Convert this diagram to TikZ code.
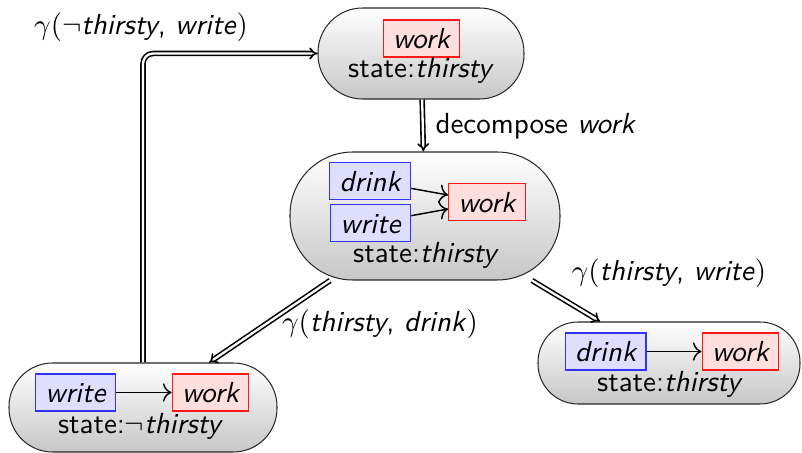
\documentclass[tikz,border=0pt]{standalone}
\usetikzlibrary{arrows.meta}
\def\pxu{0.345pt}
\tikzset{
  statebox/.style 2 args={draw=black!85, line width=0.35pt, top color=white,
    bottom color=black!22, inner sep=0pt, minimum width=#1*\pxu,
    minimum height=#2*\pxu, rounded corners=#2*0.49*\pxu},
  task/.style={draw, line width=0.45pt, text height=0.7em, text depth=0pt,
    inner xsep=3.4pt, inner ysep=2.9pt, font=\sffamily\itshape},
  primtask/.style={task, fill=blue!13, draw=blue!80},
  goaltask/.style={task, fill=red!13, draw=red!90},
  statetext/.style={anchor=base, inner sep=0pt},
  dep/.style={-{To[length=3pt]}, line width=0.5pt},
  transition/.style={double, double distance=0.8pt, line width=0.55pt, -{Implies}},
  lbl/.style={anchor=base, inner sep=0pt}
}
\begin{document}
\begin{tikzpicture}[x=0.345pt, y=-0.345pt, font=\sffamily]
\useasboundingbox (0,0) rectangle (802,453);

% search states
\node[statebox={206}{91}]  (T)  at (421,53.5) {};
\node[statebox={270}{128}] (M)  at (425,216)  {};
\node[statebox={268}{89}]  (BL) at (143,407.5) {};
\node[statebox={262}{82}]  (BR) at (669,363)  {};

% top state
\node[goaltask] (Twork) at (421.5,38.5) {work};
\node[statetext] (Tst) at (421,78) {state:\textit{thirsty}};

% middle state
\node[primtask] (Mdrink) at (370,181) {drink};
\node[primtask] (Mwrite) at (370.5,223) {write};
\node[goaltask] (Mwork)  at (487,202) {work};
\node[statetext] (Mst) at (426,263) {state:\textit{thirsty}};
\draw[dep] (Mdrink) -- (Mwork);
\draw[dep] (Mwrite) -- (Mwork);

% lower left state
\node[primtask] (Lwrite) at (75.5,392.5) {write};
\node[goaltask] (Lwork)  at (210.5,392.5) {work};
\node[statetext] (Lst) at (140.5,434) {state:$\neg$\textit{thirsty}};
\draw[dep] (Lwrite) -- (Lwork);

% lower right state
\node[primtask] (Rdrink) at (605.5,351.5) {drink};
\node[goaltask] (Rwork)  at (740.5,351.5) {work};
\node[statetext] (Rst) at (670,392) {state:\textit{thirsty}};
\draw[dep] (Rdrink) -- (Rwork);

% transitions between states
\draw[transition] (T) -- (M);
\draw[transition] (M) -- (BL);
\draw[transition] (M) -- (BR);
\draw[transition, rounded corners=3.5pt] (BL.north) |- (T.west);

% transition labels
\node[lbl] (l1) at (141,35) {$\gamma(\neg$\textit{thirsty}, \textit{write}$)$};
\node[lbl, anchor=base west] (l2) at (435,134) {decompose \textit{work}};
\node[lbl] (l3) at (669,281) {$\gamma($\textit{thirsty}, \textit{write}$)$};
\node[lbl] (l4) at (380,332) {$\gamma($\textit{thirsty}, \textit{drink}$)$};
\end{tikzpicture}
\end{document}
